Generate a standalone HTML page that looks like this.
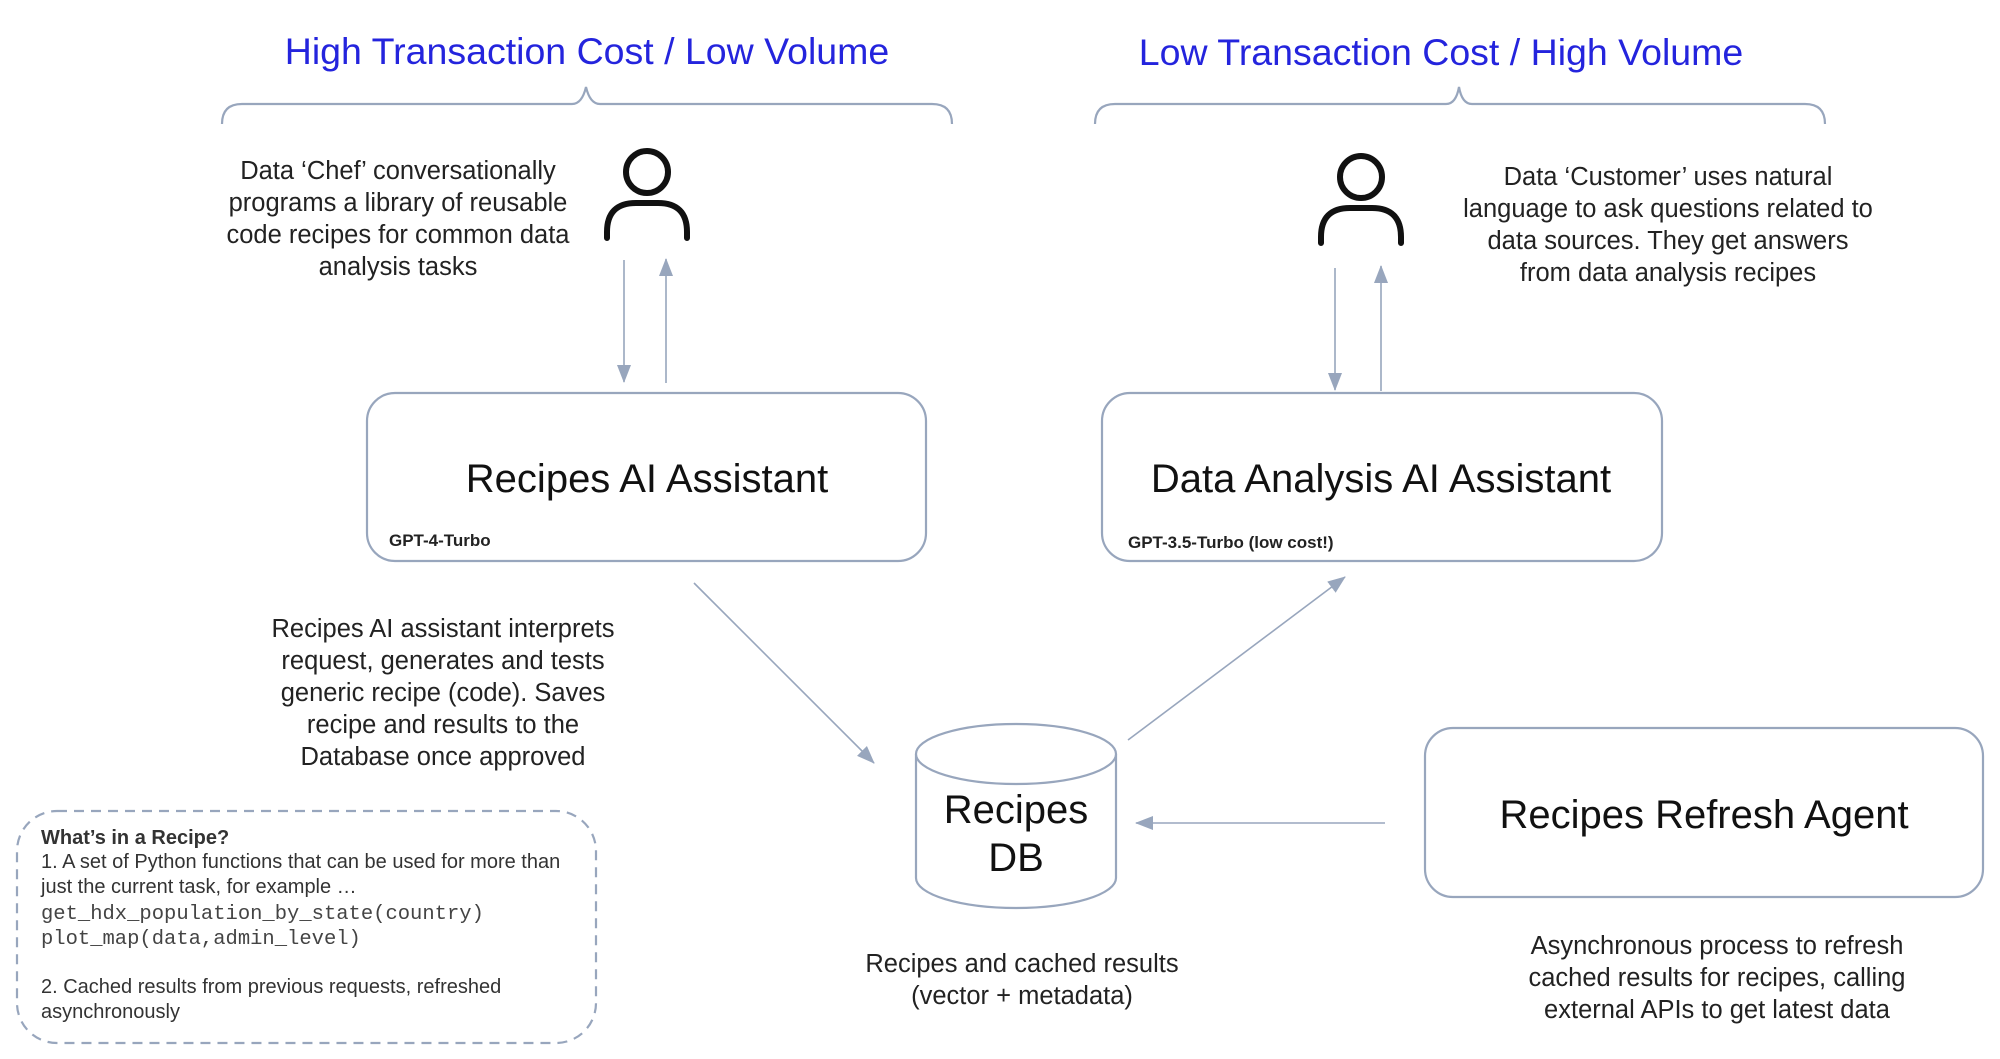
<!DOCTYPE html>
<html><head><meta charset="utf-8"><style>
html,body{margin:0;padding:0;background:#fff;}
svg{display:block;}
text{font-family:"Liberation Sans",sans-serif;}
text.mono{font-family:"Liberation Mono",monospace;}
</style></head><body>
<svg width="2000" height="1059" viewBox="0 0 2000 1059" xmlns="http://www.w3.org/2000/svg">
<defs>
<marker id="ah" markerWidth="18" markerHeight="14" refX="17" refY="7" orient="auto" markerUnits="userSpaceOnUse" viewBox="0 0 18 14">
<path d="M0,0 L18,7 L0,14 z" fill="#98a6bd"/>
</marker>
</defs>
<g fill="none" stroke="#98a6bd" stroke-width="2.2">
<path d="M222,124 Q222,104 242,104 L572,104 Q582,104 586,87 Q590,104 600,104 L932,104 Q952,104 952,124"/>
<path d="M1095,124 Q1095,104 1115,104 L1446,104 Q1456,104 1459,87 Q1462,104 1472,104 L1805,104 Q1825,104 1825,124"/>
<rect x="367" y="393" width="559" height="168" rx="28"/>
<rect x="1102" y="393" width="560" height="168" rx="28"/>
<rect x="1425" y="728" width="558" height="169" rx="28"/>
<rect x="17" y="811" width="579" height="232" rx="40" stroke-dasharray="10,7"/>
<path d="M916,754 L916,878 A100,30 0 0 0 1116,878 L1116,754"/>
<ellipse cx="1016" cy="754" rx="100" ry="30" fill="#fff"/>
<line x1="624" y1="260" x2="624" y2="382" marker-end="url(#ah)" stroke-width="1.6"/>
<line x1="666" y1="383" x2="666" y2="259" marker-end="url(#ah)" stroke-width="1.6"/>
<line x1="1335" y1="268" x2="1335" y2="390" marker-end="url(#ah)" stroke-width="1.6"/>
<line x1="1381" y1="391" x2="1381" y2="266" marker-end="url(#ah)" stroke-width="1.6"/>
<line x1="694" y1="583" x2="874" y2="763" marker-end="url(#ah)" stroke-width="1.6"/>
<line x1="1128" y1="740" x2="1345" y2="577" marker-end="url(#ah)" stroke-width="1.6"/>
<line x1="1385" y1="823" x2="1136" y2="823" marker-end="url(#ah)" stroke-width="1.6"/>
</g>
<g fill="none" stroke="#111" stroke-width="6" stroke-linecap="round">
<circle cx="647" cy="172" r="21"/>
<path d="M607,238 L607,232 Q607,203 636,203 L658,203 Q687,203 687,232 L687,238"/>
<circle cx="1361" cy="177" r="21"/>
<path d="M1321,243 L1321,237 Q1321,208 1350,208 L1372,208 Q1401,208 1401,237 L1401,243"/>
</g>
<g fill="#2424dd" font-size="37.5" text-anchor="middle">
<text x="587" y="64">High Transaction Cost / Low Volume</text>
<text x="1441" y="65">Low Transaction Cost / High Volume</text>
</g>
<g fill="#222" font-size="25.5" text-anchor="middle">
<text x="398" y="179">Data ‘Chef’ conversationally</text>
<text x="398" y="211">programs a library of reusable</text>
<text x="398" y="243">code recipes for common data</text>
<text x="398" y="275">analysis tasks</text>
<text x="1668" y="185">Data ‘Customer’ uses natural</text>
<text x="1668" y="217">language to ask questions related to</text>
<text x="1668" y="249">data sources. They get answers</text>
<text x="1668" y="281">from data analysis recipes</text>
<text x="443" y="637">Recipes AI assistant interprets</text>
<text x="443" y="669">request, generates and tests</text>
<text x="443" y="701">generic recipe (code). Saves</text>
<text x="443" y="733">recipe and results to the</text>
<text x="443" y="765">Database once approved</text>
<text x="1022" y="972">Recipes and cached results</text>
<text x="1022" y="1004">(vector + metadata)</text>
<text x="1717" y="954">Asynchronous process to refresh</text>
<text x="1717" y="986">cached results for recipes, calling</text>
<text x="1717" y="1018">external APIs to get latest data</text>
</g>
<g fill="#111" font-size="40" text-anchor="middle">
<text x="647" y="492">Recipes AI Assistant</text>
<text x="1381" y="492">Data Analysis AI Assistant</text>
<text x="1704" y="828">Recipes Refresh Agent</text>
<text x="1016" y="823">Recipes</text>
<text x="1016" y="871">DB</text>
</g>
<g fill="#222" font-size="17" font-weight="bold">
<text x="389" y="546">GPT-4-Turbo</text>
<text x="1128" y="548">GPT-3.5-Turbo (low cost!)</text>
</g>
<g fill="#333" font-size="20">
<text x="41" y="844" font-weight="bold" font-size="20">What’s in a Recipe?</text>
<text x="41" y="868">1. A set of Python functions that can be used for more than</text>
<text x="41" y="893">just the current task, for example …</text>
<text x="41" y="919" class="mono" font-size="20.5" fill="#444">get_hdx_population_by_state(country)</text>
<text x="41" y="944" class="mono" font-size="20.5" fill="#444">plot_map(data,admin_level)</text>
<text x="41" y="993">2. Cached results from previous requests, refreshed</text>
<text x="41" y="1018">asynchronously</text>
</g>
</svg>
</body></html>
